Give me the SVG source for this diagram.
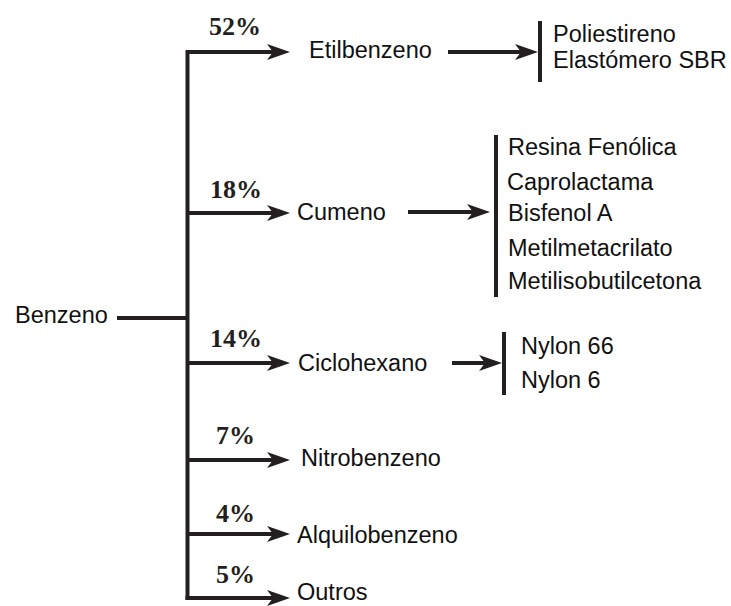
<svg xmlns="http://www.w3.org/2000/svg" width="731" height="606" viewBox="0 0 731 606">
<defs>
<style>
.t{font-family:"Liberation Sans",Arial,sans-serif;font-size:23.5px;fill:#111}
.p{font-family:"Liberation Serif","Times New Roman",serif;font-size:26px;font-weight:bold;fill:#231f20}
.ln{stroke:#231f20;stroke-width:4;fill:none}
</style>
<marker id="ah" viewBox="0 0 23 16" refX="11" refY="8" markerUnits="userSpaceOnUse" markerWidth="23" markerHeight="16" orient="auto">
<path d="M0,0 L23,8 L0,16 L6,8 Z" fill="#231f20"/>
</marker>
</defs>
<rect width="731" height="606" fill="#fff"/>
<g id="connectors">
<path class="ln" d="M117,318 H187.5"/>
<path class="ln" d="M187.5,50 V600"/>
<path class="ln" d="M187.5,52 H278" marker-end="url(#ah)"/>
<path class="ln" d="M187.5,213 H278" marker-end="url(#ah)"/>
<path class="ln" d="M187.5,363 H278" marker-end="url(#ah)"/>
<path class="ln" d="M187.5,460 H278" marker-end="url(#ah)"/>
<path class="ln" d="M187.5,534 H278" marker-end="url(#ah)"/>
<path class="ln" d="M185.5,598 H278" marker-end="url(#ah)"/>
<path class="ln" d="M448,52 H526" marker-end="url(#ah)"/>
<path class="ln" d="M408,212 H478" marker-end="url(#ah)"/>
<path class="ln" d="M452,363 H490" marker-end="url(#ah)"/>
<path class="ln" d="M540,21 V82"/>
<path class="ln" d="M496,135 V297"/>
<path class="ln" d="M504,332 V395"/>
</g>
<g id="labels">
<text class="p" x="209" y="35">52%</text>
<text class="p" x="210" y="198">18%</text>
<text class="p" x="210" y="347">14%</text>
<text class="p" x="216" y="444">7%</text>
<text class="p" x="216" y="522">4%</text>
<text class="p" x="216" y="583">5%</text>
</g>
<g id="benzeno"><text class="t" x="15" y="323">Benzeno</text></g>
<g id="etilbenzeno"><text class="t" x="309" y="58">Etilbenzeno</text></g>
<g id="cumeno"><text class="t" x="297" y="220">Cumeno</text></g>
<g id="ciclohexano"><text class="t" x="298" y="371">Ciclohexano</text></g>
<g id="nitrobenzeno"><text class="t" x="301" y="466">Nitrobenzeno</text></g>
<g id="alquilobenzeno"><text class="t" x="297" y="543">Alquilobenzeno</text></g>
<g id="outros"><text class="t" x="297" y="600">Outros</text></g>
<g id="etil-produtos">
<text class="t" x="553" y="42">Poliestireno</text>
<text class="t" x="553" y="68">Elastómero SBR</text>
</g>
<g id="cumeno-produtos">
<text class="t" x="508" y="155">Resina Fenólica</text>
<text class="t" x="507" y="190">Caprolactama</text>
<text class="t" x="508" y="221">Bisfenol A</text>
<text class="t" x="508" y="256">Metilmetacrilato</text>
<text class="t" x="508" y="289">Metilisobutilcetona</text>
</g>
<g id="ciclo-produtos">
<text class="t" x="521" y="354">Nylon 66</text>
<text class="t" x="521" y="388">Nylon 6</text>
</g>
</svg>
